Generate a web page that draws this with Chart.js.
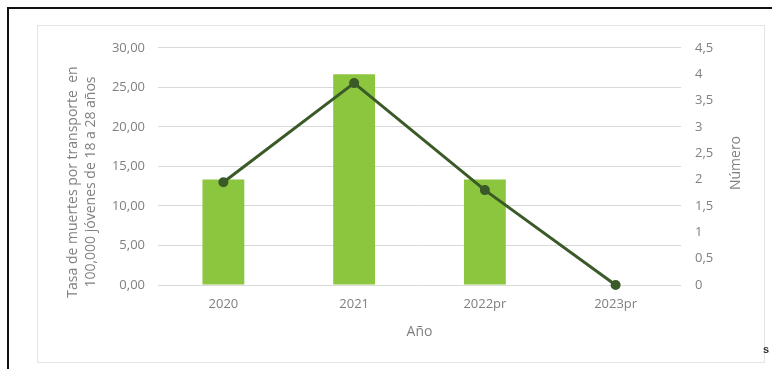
<!DOCTYPE html>
<html>
<head>
<meta charset="utf-8">
<script src="https://cdn.jsdelivr.net/npm/chart.js@4/dist/chart.umd.min.js"></script>
<style>
  body { margin: 0; background: #fff; width: 772px; height: 369px; overflow: hidden; position: relative; font-family: "Open Sans", sans-serif; }
  #frame { position: absolute; left: 7px; top: 7px; width: 770px; height: 370px; border-top: 2px solid #111; border-left: 2px solid #111; }
  #box { position: absolute; left: 37px; top: 25px; width: 726px; height: 336px; border: 1px solid #e4e4e4; }
  #mark { position: absolute; left: 763px; top: 343px; font: bold 11px "Liberation Sans", sans-serif; color: #333; }
</style>
</head>
<body>
<div id="frame"></div>
<div id="box"><canvas id="myChart"></canvas></div>
<div id="mark">s</div>
<script>
const years = ['2020', '2021', '2022pr', '2023pr'];
const tasa = [13.33, 26.67, 13.33, 0];
const numero = [1.95, 3.83, 1.8, 0];

const leftTitle = ['Tasa de muertes por transporte  en', '100,000 jóvenes de 18 a 28 años'];
const rightTitle = 'Número';
const xTitle = 'Año';

const textColor = '#808080';

// axis titles drawn by hand so the right one reads bottom-to-top like Excel
const titles = {
  id: 'titles',
  afterDraw(chart) {
    const ctx = chart.ctx;
    ctx.save();
    ctx.fillStyle = textColor;
    ctx.font = '14px "Open Sans"';
    ctx.textAlign = 'center';
    ctx.textBaseline = 'middle';

    leftTitle.forEach((line, i) => {
      ctx.save();
      ctx.translate(35 + i * 18, 156);
      ctx.rotate(-Math.PI / 2);
      ctx.fillText(line, 0, 0);
      ctx.restore();
    });

    ctx.save();
    ctx.translate(698, 137);
    ctx.rotate(-Math.PI / 2);
    ctx.fillText(rightTitle, 0, 0);
    ctx.restore();

    const a = chart.chartArea;
    ctx.fillText(xTitle, (a.left + a.right) / 2, 306);
    ctx.restore();
  }
};

const config = {
  type: 'bar',
  data: {
    labels: years,
    datasets: [
      {
        type: 'line',
        label: 'Número',
        data: numero,
        yAxisID: 'y1',
        borderColor: '#3a5a27',
        backgroundColor: '#3a5a27',
        borderWidth: 3,
        pointRadius: 3.5,
        pointHoverRadius: 3.5,
        clip: false,
        order: 0,
      },
      {
        label: 'Tasa',
        data: tasa,
        yAxisID: 'y',
        backgroundColor: '#8cc63f',
        categoryPercentage: 1,
        barPercentage: 0.32,
        order: 1,
      },
    ],
  },
  options: {
    responsive: true,
    maintainAspectRatio: false,
    animation: false,
    layout: { padding: { top: 19, left: 0, right: 0, bottom: 0 } },
    plugins: { legend: { display: false }, tooltip: { enabled: false } },
    scales: {
      x: {
        grid: { display: false },
        border: { display: false },
        ticks: { color: textColor, font: { family: 'Open Sans', size: 13 }, padding: 3 },
        afterFit(scale) { scale.height = 77; },
      },
      y: {
        position: 'left',
        min: 0,
        max: 30,
        grid: { color: '#d9d9d9', drawTicks: false },
        border: { display: false },
        ticks: {
          stepSize: 5,
          padding: 13,
          color: textColor,
          font: { family: 'Open Sans', size: 13 },
          callback: (v) => v.toFixed(2).replace('.', ','),
        },
        afterFit(scale) { scale.width = 120; },
      },
      y1: {
        position: 'right',
        min: 0,
        max: 4.5,
        grid: { display: false, drawTicks: false },
        border: { display: false },
        ticks: {
          stepSize: 0.5,
          padding: 14,
          color: textColor,
          font: { family: 'Open Sans', size: 13 },
          callback: (v) => String(v).replace('.', ','),
        },
        afterFit(scale) { scale.width = 83; },
      },
    },
  },
  plugins: [titles],
};

new Chart(document.getElementById('myChart'), config);
</script>
</body>
</html>
